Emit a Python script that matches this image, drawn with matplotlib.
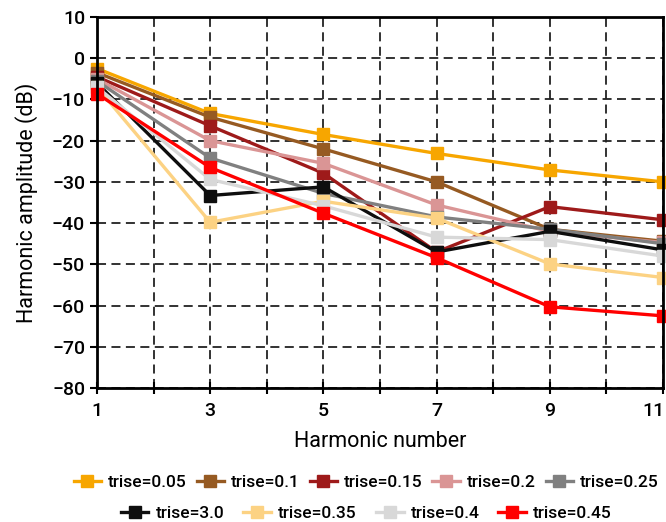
import numpy as np
import matplotlib
matplotlib.use("Agg")
import matplotlib.pyplot as plt
import matplotlib.transforms as mtransforms
from matplotlib.lines import Line2D

plt.rcParams['font.family'] = ['Roboto', 'DejaVu Sans']
plt.rcParams['font.weight'] = 'medium'

harmonics = [1, 3, 5, 7, 9, 11]
labels = ['trise=0.05', 'trise=0.1', 'trise=0.15', 'trise=0.2', 'trise=0.25',
          'trise=3.0', 'trise=0.35', 'trise=0.4', 'trise=0.45']
colors = ['#F7A600', '#965A22', '#9E1A1A', '#DA9595', '#808080',
          '#0E0E0E', '#FCD283', '#D8D8D8', '#FF0000']

amp_005 = [-2.5, -13.4, -18.5, -23.1, -27.1, -30.0]
amp_010 = [-3.5, -14.3, -22.0, -30.0, -41.5, -44.4]
amp_015 = [-4.5, -16.4, -27.9, -47.0, -36.0, -39.2]
amp_020 = [-5.0, -20.0, -25.5, -35.6, -42.0, -44.7]
amp_025 = [-5.5, -24.2, -32.8, -38.5, -41.5, -45.0]
amp_30 = [-6.0, -33.3, -31.2, -47.0, -42.0, -46.5]
amp_035 = [-7.0, -39.8, -34.7, -38.8, -49.9, -53.2]
amp_040 = [-7.0, -29.4, -35.8, -43.4, -44.0, -48.0]
amp_045 = [-8.6, -26.5, -37.6, -48.4, -60.3, -62.5]
series = [amp_005, amp_010, amp_015, amp_020, amp_025,
          amp_30, amp_035, amp_040, amp_045]

fig = plt.figure(figsize=(6.66, 5.22), dpi=100)
ax = fig.add_axes([0.1456, 0.2567, 0.85, 0.7107])

for vals, c in zip(series, colors):
    ax.plot(harmonics, vals, color=c, lw=2.4, marker='s', ms=8,
            mec=c, mfc=c, clip_on=False)

ax.set_xlim(1, 11)
ax.set_ylim(-80, 10)
ax.set_xticks(range(1, 12))
ax.set_xticklabels([str(i) if i % 2 == 1 else '' for i in range(1, 12)])
ax.set_yticks(range(-80, 11, 10))
ax.grid(True, color='#222222', ls=(0, (5, 3)), lw=1.3)
ax.tick_params(axis='x', direction='inout', length=8, width=1.5, labelsize=14,
               pad=6)
ax.tick_params(axis='y', direction='out', length=5, width=1.5, labelsize=14)
for s in ax.spines.values():
    s.set_linewidth(2)
ax.set_xlabel('Harmonic number', fontsize=15.5, labelpad=8)
ax.set_ylabel('Harmonic amplitude (dB)', fontsize=15.5, labelpad=10)

# keep the last x label inside the figure
last = ax.get_xticklabels()[-1]
last.set_transform(last.get_transform() +
                   mtransforms.ScaledTranslation(-10 / 100, 0, fig.dpi_scale_trans))

handles = [Line2D([], [], color=c, lw=2.4, marker='s', ms=8) for c in colors]
leg_kw = dict(frameon=False, fontsize=12.5, handlelength=1.6, handletextpad=0.4,
              borderaxespad=0)
fig.legend(handles[:5], labels[:5], ncol=5, loc='center', columnspacing=0.55,
           bbox_to_anchor=(0.55, 0.075), **leg_kw)
fig.legend(handles[5:], labels[5:], ncol=4, loc='center', columnspacing=1.1,
           bbox_to_anchor=(0.55, 0.017), **leg_kw)

fig.savefig('out.png', dpi=100)
